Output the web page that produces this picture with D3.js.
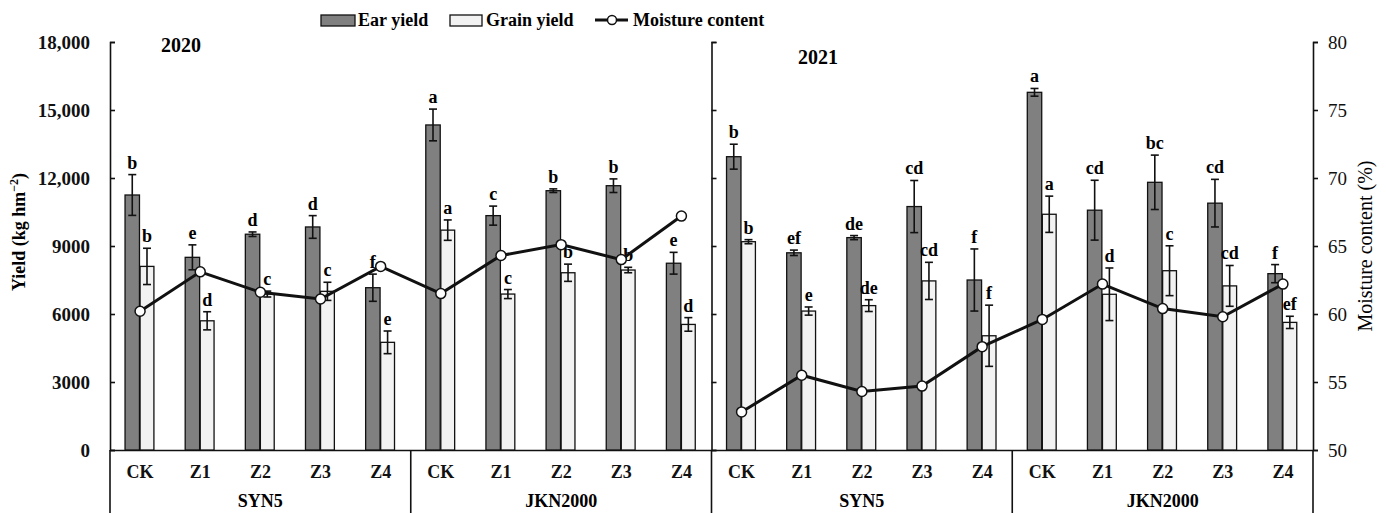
<!DOCTYPE html>
<html>
<head>
<meta charset="utf-8">
<title>Yield and moisture</title>
<script src="https://cdn.jsdelivr.net/npm/d3@7"></script>
<style>
  body { margin: 0; background: #fff; }
  svg text { font-family: "Liberation Serif", "Times New Roman", serif; }
</style>
</head>
<body>
<div id="chart"></div>
<script>
// data
var years = ["2020", "2021"];
var cultivars = ["SYN5", "JKN2000"];
var treatments = ["CK", "Z1", "Z2", "Z3", "Z4"];
var yieldTicks = [0, 3000, 6000, 9000, 12000, 15000, 18000];
var moistureTicks = [50, 55, 60, 65, 70, 75, 80];

var ear2020 = [11250, 8500, 9520, 9840, 7160, 14340, 10340, 11440, 11660, 8240];
var earErr2020 = [900, 550, 100, 500, 600, 700, 420, 80, 300, 480];
var grain2020 = [8100, 5700, 6880, 7000, 4750, 9700, 6880, 7820, 7940, 5540];
var grainErr2020 = [800, 400, 130, 400, 500, 450, 200, 380, 120, 300];
var moisture2020 = [60.2, 63.1, 61.6, 61.1, 63.5, 61.5, 64.3, 65.1, 64.0, 67.2];
var earLetters2020 = ["b", "e", "d", "d", "f", "a", "c", "b", "b", "e"];
var grainLetters2020 = ["b", "d", "c", "c", "e", "a", "c", "b", "b", "d"];

var ear2021 = [12940, 8700, 9370, 10740, 7500, 15780, 10580, 11810, 10890, 7780];
var earErr2021 = [550, 120, 90, 1150, 1370, 170, 1320, 1200, 1050, 400];
var grain2021 = [9190, 6130, 6370, 7460, 5040, 10400, 6870, 7910, 7240, 5630];
var grainErr2021 = [90, 180, 260, 820, 1350, 800, 1160, 1100, 900, 270];
var moisture2021 = [52.8, 55.5, 54.3, 54.7, 57.6, 59.6, 62.2, 60.4, 59.8, 62.2];
var earLetters2021 = ["b", "ef", "de", "cd", "f", "a", "cd", "bc", "cd", "f"];
var grainLetters2021 = ["b", "e", "de", "cd", "f", "a", "d", "c", "cd", "ef"];

var W = 1386, H = 513;
var plotLeft = 110, plotRight = 1313, plotTop = 42, base = 450;

// build rows
var series = {
  "2020": [ear2020, earErr2020, grain2020, grainErr2020, moisture2020, earLetters2020, grainLetters2020],
  "2021": [ear2021, earErr2021, grain2021, grainErr2021, moisture2021, earLetters2021, grainLetters2021]
};
var rows = [];
years.forEach(function(yr) {
  var s = series[yr], i = 0;
  cultivars.forEach(function(cv) {
    treatments.forEach(function(tr) {
      rows.push({key: yr + "-" + cv + "-" + tr, year: yr, cultivar: cv, treatment: tr,
        ear: s[0][i], earErr: s[1][i], grain: s[2][i], grainErr: s[3][i],
        moisture: s[4][i], earLetter: s[5][i], grainLetter: s[6][i]});
      i++;
    });
  });
});

var svg = d3.select("#chart").append("svg")
  .attr("width", W).attr("height", H);

var x = d3.scaleBand()
  .domain(rows.map(function(r) { return r.key; }))
  .range([plotLeft, plotRight])
  .paddingInner(0).paddingOuter(0);
var bw = x.bandwidth();

var y = d3.scaleLinear().domain([0, 18000]).range([base, plotTop]);
var ym = d3.scaleLinear().domain([50, 80]).range([base, plotTop]);

function translate(a, b) { return "translate(" + a + "," + b + ")"; }

// axes
var yAxis = d3.axisLeft(y).tickValues(yieldTicks).tickSize(-5).tickPadding(20)
  .tickFormat(function(d) { return d >= 10000 ? d3.format(",")(d) : d; });
var gy = svg.append("g").attr("transform", translate(plotLeft, 0)).call(yAxis);
gy.selectAll("text").style("font-size", "19px").style("font-weight", "bold").attr("fill", "#111");

var midX = x(rows[10].key);
var gmid = svg.append("g").attr("transform", translate(midX, 0))
  .call(d3.axisRight(y).tickValues(yieldTicks).tickSize(5).tickFormat(""));

var ymAxis = d3.axisRight(ym).tickValues(moistureTicks).tickSize(5).tickPadding(10);
var gr = svg.append("g").attr("transform", translate(plotRight, 0)).call(ymAxis);
gr.selectAll("text").style("font-size", "19px").attr("fill", "#111");

[gy, gmid, gr].forEach(function(g) {
  g.selectAll("path, line").attr("stroke", "#111").attr("stroke-width", 1.6);
});

// bottom axis with category and group labels
var gx = svg.append("g").attr("transform", translate(0, base))
  .call(d3.axisBottom(x).tickSize(0).tickPadding(15)
    .tickFormat(function(k) { return k.split("-")[2]; }));
gx.select(".domain").attr("stroke", "#111").attr("stroke-width", 1.6);
gx.selectAll("text").style("font-size", "18px").style("font-weight", "bold").attr("fill", "#111");

var seps = [plotLeft];
years.forEach(function(yr) {
  cultivars.forEach(function(cv) {
    seps.push(x(yr + "-" + cv + "-Z4") + bw);
  });
});
svg.selectAll(".sep").data(seps).enter().append("line")
  .attr("class", "sep")
  .attr("x1", function(d) { return d; }).attr("x2", function(d) { return d; })
  .attr("y1", base).attr("y2", H)
  .attr("stroke", "#111").attr("stroke-width", 1.6);

var groups = [];
years.forEach(function(yr) {
  cultivars.forEach(function(cv) {
    groups.push({name: cv, x: (x(yr + "-" + cv + "-CK") + x(yr + "-" + cv + "-Z4") + bw) / 2});
  });
});
svg.selectAll(".grp").data(groups).enter().append("text")
  .attr("class", "grp")
  .attr("x", function(d) { return d.x; }).attr("y", 507)
  .attr("text-anchor", "middle")
  .style("font-size", "18px").style("font-weight", "bold")
  .text(function(d) { return d.name; });

// bars
svg.selectAll(".ear").data(rows).enter().append("rect")
  .attr("class", "ear")
  .attr("x", function(d) { return x(d.key) + bw * 0.25; })
  .attr("width", bw * 0.24)
  .attr("y", function(d) { return y(d.ear); })
  .attr("height", function(d) { return base - y(d.ear); })
  .attr("fill", "#808080").attr("stroke", "#111").attr("stroke-width", 1.3);

svg.selectAll(".grain").data(rows).enter().append("rect")
  .attr("class", "grain")
  .attr("x", function(d) { return x(d.key) + bw * 0.5; })
  .attr("width", bw * 0.23)
  .attr("y", function(d) { return y(d.grain); })
  .attr("height", function(d) { return base - y(d.grain); })
  .attr("fill", "#f2f2f2").attr("stroke", "#111").attr("stroke-width", 1.3);

// error bars + letters
function errBars(cls, val, err, letter, off) {
  var g = svg.selectAll("." + cls).data(rows).enter().append("g").attr("class", cls);
  var cx = function(d) { return x(d.key) + bw * off; };
  g.append("line")
    .attr("x1", cx).attr("x2", cx)
    .attr("y1", function(d) { return y(d[val] + d[err]); })
    .attr("y2", function(d) { return y(d[val] - d[err]); });
  g.append("line")
    .attr("x1", function(d) { return cx(d) - 4; }).attr("x2", function(d) { return cx(d) + 4; })
    .attr("y1", function(d) { return y(d[val] + d[err]); })
    .attr("y2", function(d) { return y(d[val] + d[err]); });
  g.append("line")
    .attr("x1", function(d) { return cx(d) - 4; }).attr("x2", function(d) { return cx(d) + 4; })
    .attr("y1", function(d) { return y(d[val] - d[err]); })
    .attr("y2", function(d) { return y(d[val] - d[err]); });
  g.selectAll("line").attr("stroke", "#111").attr("stroke-width", 1.6);
  g.append("text")
    .attr("x", cx)
    .attr("y", function(d) { return y(d[val] + d[err]) - 6; })
    .attr("text-anchor", "middle")
    .style("font-size", "18px").style("font-weight", "bold")
    .text(function(d) { return d[letter]; });
}
errBars("earErr", "ear", "earErr", "earLetter", 0.37);
errBars("grainErr", "grain", "grainErr", "grainLetter", 0.615);

// moisture lines, one per year panel
var line = d3.line()
  .x(function(d) { return x(d.key) + bw / 2; })
  .y(function(d) { return ym(d.moisture); });
years.forEach(function(yr) {
  var pts = rows.filter(function(r) { return r.year === yr; });
  svg.append("path").datum(pts).attr("d", line)
    .attr("fill", "none").attr("stroke", "#111").attr("stroke-width", 3);
});
svg.selectAll(".dot").data(rows).enter().append("circle")
  .attr("cx", function(d) { return x(d.key) + bw / 2; })
  .attr("cy", function(d) { return ym(d.moisture); })
  .attr("r", 5)
  .attr("fill", "#fff").attr("stroke", "#111").attr("stroke-width", 1.5);

// panel titles
svg.append("text").attr("x", 181).attr("y", 52).attr("text-anchor", "middle")
  .style("font-size", "20px").style("font-weight", "bold").text(years[0]);
svg.append("text").attr("x", 818).attr("y", 64).attr("text-anchor", "middle")
  .style("font-size", "20px").style("font-weight", "bold").text(years[1]);

// axis titles
var yt = svg.append("text")
  .attr("text-anchor", "middle")
  .attr("transform", translate(25, 232) + " rotate(-90)")
  .style("font-size", "18px").style("font-weight", "bold");
yt.append("tspan").text("Yield (kg hm");
yt.append("tspan").attr("dy", -7).style("font-size", "12px").text("\u22122");
yt.append("tspan").attr("dy", 7).text(")");

svg.append("text")
  .attr("text-anchor", "middle")
  .attr("transform", translate(1372, 246) + " rotate(-90)")
  .style("font-size", "20px")
  .text("Moisture content (%)");

// legend
var lg = svg.append("g").style("font-size", "18px").style("font-weight", "bold");
lg.append("rect").attr("x", 321).attr("y", 15).attr("width", 34).attr("height", 11)
  .attr("fill", "#808080").attr("stroke", "#111").attr("stroke-width", 1.3);
lg.append("text").attr("x", 358).attr("y", 26).text("Ear yield");
lg.append("rect").attr("x", 450).attr("y", 15).attr("width", 32).attr("height", 11)
  .attr("fill", "#f2f2f2").attr("stroke", "#111").attr("stroke-width", 1.3);
lg.append("text").attr("x", 486).attr("y", 26).text("Grain yield");
lg.append("line").attr("x1", 595).attr("x2", 628).attr("y1", 20).attr("y2", 20)
  .attr("stroke", "#111").attr("stroke-width", 3);
lg.append("circle").attr("cx", 612).attr("cy", 20).attr("r", 4.5)
  .attr("fill", "#fff").attr("stroke", "#111").attr("stroke-width", 1.5);
lg.append("text").attr("x", 633).attr("y", 26).text("Moisture content");
</script>
</body>
</html>
